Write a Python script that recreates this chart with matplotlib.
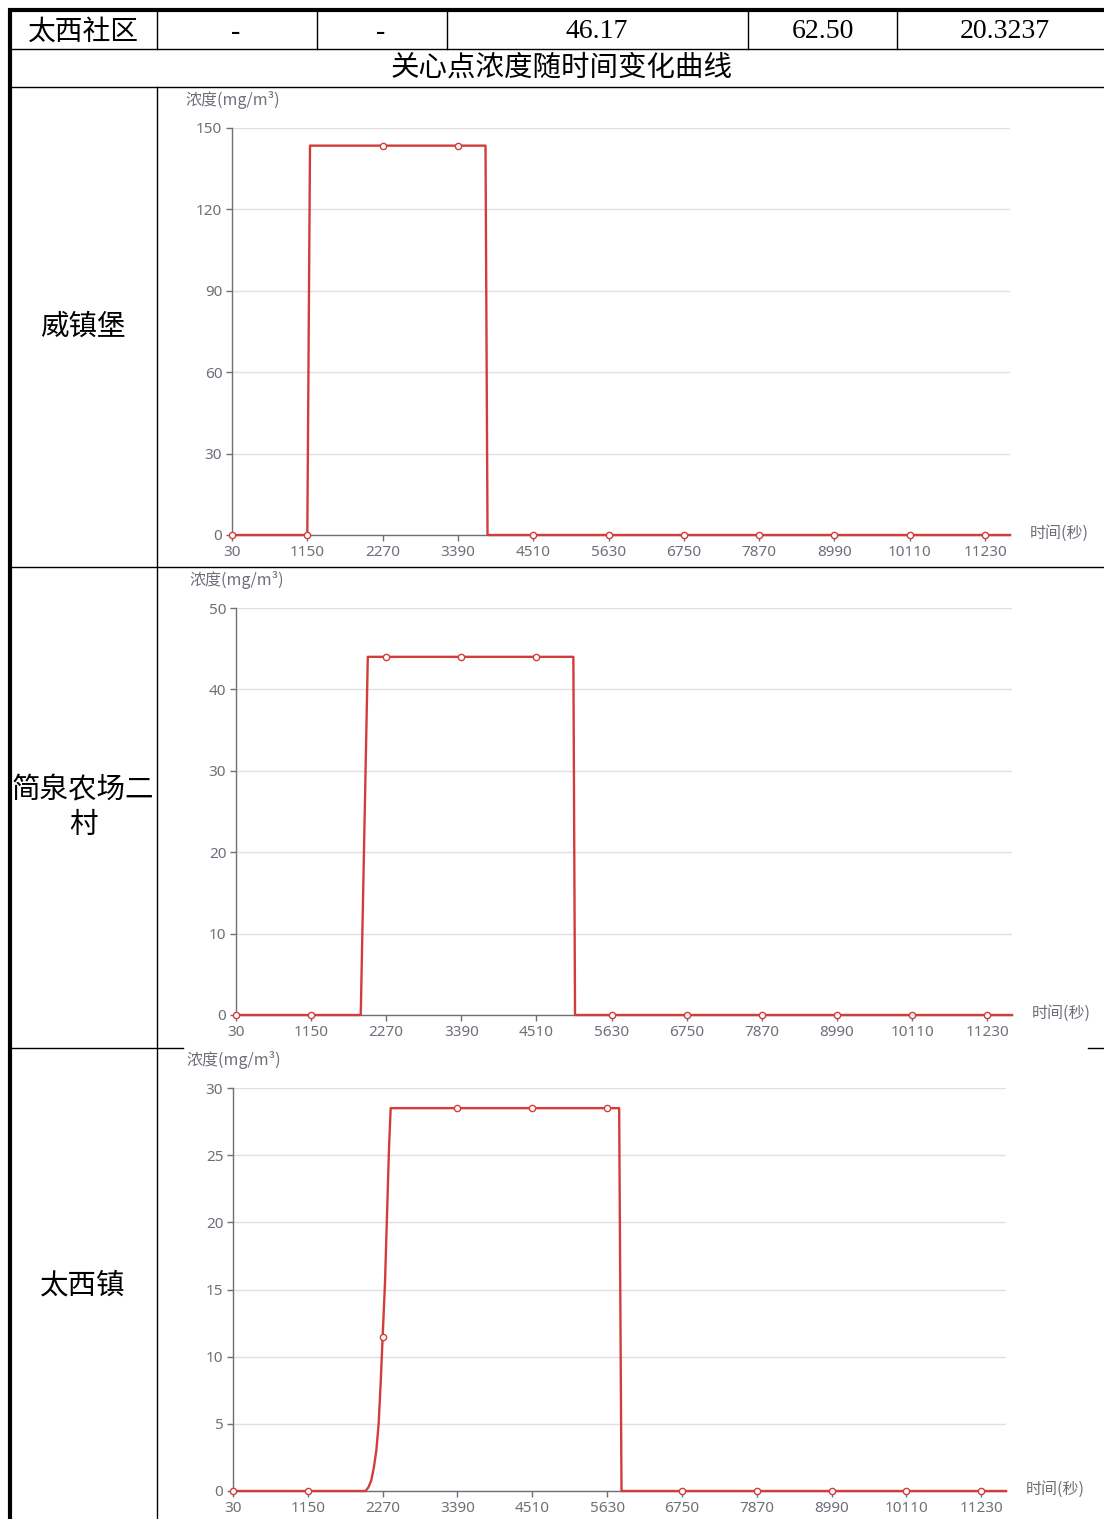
import matplotlib
matplotlib.use("Agg")
import matplotlib.pyplot as plt

W, H = 1104, 1519

# header row of the table
ROW_CELLS = ["太西社区", "-", "-", "46.17", "62.50", "20.3237"]
TITLE = "关心点浓度随时间变化曲线"

# x ticks shared by the three charts (time, s)
X_TICKS = [30, 1150, 2270, 3390, 4510, 5630, 6750, 7870, 8990, 10110, 11230]
X_END = 11600

# 威镇堡
SITE1 = "威镇堡"
T1 = [30, 1150, 1190, 2270, 3390, 3800, 3830, 4510, 5630, 6750, 7870, 8990, 10110, 11230, 11600]
V1 = [0, 0, 143.5, 143.5, 143.5, 143.5, 0, 0, 0, 0, 0, 0, 0, 0, 0]
Y1_TICKS = [0, 30, 60, 90, 120, 150]

# 简泉农场二村
SITE2 = "简泉农场二\n村"
T2 = [30, 1150, 1890, 1995, 2270, 3390, 4510, 5060, 5085, 5630, 6750, 7870, 8990, 10110, 11230, 11600]
V2 = [0, 0, 0, 44.0, 44.0, 44.0, 44.0, 44.0, 0, 0, 0, 0, 0, 0, 0, 0]
Y2_TICKS = [0, 10, 20, 30, 40, 50]

# 太西镇
SITE3 = "太西镇"
T3 = [30, 1150, 2015, 2060, 2100, 2140, 2175, 2210, 2240, 2270, 2305, 2335, 2365, 2390,
      3390, 4510, 5630, 5810, 5845, 6750, 7870, 8990, 10110, 11230, 11600]
V3 = [0, 0, 0, 0.3, 0.8, 1.8, 3.0, 5.0, 8.0, 11.5, 15.5, 20.5, 25.5, 28.5,
      28.5, 28.5, 28.5, 28.5, 0, 0, 0, 0, 0, 0, 0]
Y3_TICKS = [0, 5, 10, 15, 20, 25, 30]

RED = "#d23d3b"
GRAY = "#6E7079"
GRID = "#E0E0E0"
CJK = ["Noto Sans CJK SC", "DejaVu Sans"]
UI = ["Noto Sans", "Noto Sans CJK SC"]
SERIF = ["Liberation Serif", "Noto Sans CJK SC"]


def px_box(left, top, right, bottom):
    return [left / W, 1 - bottom / H, (right - left) / W, (bottom - top) / H]


def draw_chart(fig, page, box, times, values, yticks):
    left, top, right, bottom = box
    ax = fig.add_axes(px_box(left, top, right, bottom))
    ax.set_xlim(X_TICKS[0], X_END)
    ax.set_ylim(yticks[0], yticks[-1])
    ax.set_xticks(X_TICKS)
    ax.set_yticks(yticks)
    for side in ("top", "right"):
        ax.spines[side].set_visible(False)
    for side in ("left", "bottom"):
        ax.spines[side].set_color(GRAY)
        ax.spines[side].set_linewidth(1.0)
    ax.grid(axis="y", color=GRID, lw=1.0)
    ax.set_axisbelow(True)
    ax.tick_params(length=4, width=1, color=GRAY, labelcolor=GRAY, labelsize=11)
    ax.tick_params(axis="x", pad=3)
    ax.tick_params(axis="y", pad=3)
    for lab in ax.get_xticklabels() + ax.get_yticklabels():
        lab.set_family(UI)

    marks = [i for i, t in enumerate(times) if t in X_TICKS]
    ax.plot(times, values, color=RED, lw=1.7, marker="o", markevery=marks, ms=4.5,
            mfc="white", mec=RED, mew=1.0, clip_on=False, solid_joinstyle="round", zorder=3)

    page.text(left - 47, top - 28, "浓度(mg/m³)", fontsize=11.5, color=GRAY,
              ha="left", va="center", family=CJK)
    page.text(right + 20, bottom - 2, "时间(秒)", fontsize=11.5, color=GRAY,
              ha="left", va="center", family=CJK)
    return ax


def main():
    fig = plt.figure(figsize=(W / 100, H / 100), dpi=100)
    page = fig.add_axes([0, 0, 1, 1])
    page.set_xlim(0, W)
    page.set_ylim(H, 0)
    page.axis("off")

    # table borders
    page.plot([8, W], [10, 10], color="black", lw=3.0, solid_capstyle="butt")
    page.plot([10, 10], [9, H], color="black", lw=3.0, solid_capstyle="butt")
    for y in (49, 87, 567):
        page.plot([10, W], [y, y], color="black", lw=1.0)
    page.plot([10, 183], [1048, 1048], color="black", lw=1.0)
    page.plot([1088, W], [1048, 1048], color="black", lw=1.0)
    for x in (317, 447, 748, 897):
        page.plot([x, x], [10, 49], color="black", lw=1.0)
    page.plot([157, 157], [10, 49], color="black", lw=1.0)
    page.plot([157, 157], [87, H], color="black", lw=1.0)

    cell_x = [83, 236, 381, 597, 823, 1005]
    for x, txt in zip(cell_x, ROW_CELLS):
        fam = CJK if txt == ROW_CELLS[0] else SERIF
        page.text(x, 32, txt, fontsize=20, ha="center", va="center", family=fam)
    page.text(562, 68, TITLE, fontsize=20.5, ha="center", va="center", family=CJK)

    page.text(83, 327, SITE1, fontsize=20.5, ha="center", va="center", family=CJK)
    page.text(83, 808, SITE2, fontsize=20.5, ha="center", va="center", family=CJK,
              linespacing=1.2)
    page.text(83, 1285, SITE3, fontsize=20.5, ha="center", va="center", family=CJK)

    draw_chart(fig, page, (232, 128, 1010, 535), T1, V1, Y1_TICKS)
    draw_chart(fig, page, (236, 608, 1012, 1015), T2, V2, Y2_TICKS)
    draw_chart(fig, page, (233, 1088, 1006, 1491), T3, V3, Y3_TICKS)

    fig.savefig("out.png", dpi=100)
    plt.close(fig)


if __name__ == "__main__":
    main()
